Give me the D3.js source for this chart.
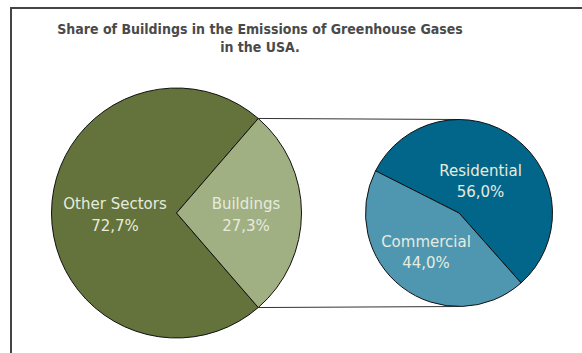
<!DOCTYPE html>
<html>
<head>
<meta charset="utf-8">
<script src="https://cdn.jsdelivr.net/npm/d3@7"></script>
<style>
  html, body { margin: 0; padding: 0; background: #fff; }
  svg { display: block; }
</style>
</head>
<body>
<svg id="chart" width="582" height="353"></svg>
<script>
// Greenhouse gas emissions, USA: buildings vs. other sectors, then buildings split
const mainCategories = ["Other Sectors", "Buildings"];
const mainValues = [72.7, 27.3];
const mainColors = ["#63733B", "#A1B082"];

const subCategories = ["Residential", "Commercial"];
const subValues = [56.0, 44.0];
const subColors = ["#02668B", "#4F97B1"];

const titleLines = ["Share of Buildings in the Emissions of Greenhouse Gases", "in the USA."];

const fmt = v => d3.format(".1f")(v).replace(".", ",") + "%";

const svg = d3.select("#chart");
const fontFamily = "'DejaVu Sans', Verdana, sans-serif";

// Frame (left and top edges)
svg.append("path")
  .attr("d", "M11,353 V8 H582")
  .attr("fill", "none")
  .attr("stroke", "#444")
  .attr("stroke-width", 2);

// Title
svg.append("text")
  .attr("x", 260).attr("y", 33.5)
  .attr("text-anchor", "middle")
  .attr("font-family", "'DejaVu Sans Condensed', 'DejaVu Sans', sans-serif")
  .attr("font-stretch", "condensed")
  .attr("font-size", 14)
  .attr("font-weight", "bold")
  .attr("fill", "#4a4a4a")
  .selectAll("tspan").data(titleLines).join("tspan")
  .attr("x", 260)
  .attr("dy", (d, i) => i === 0 ? 0 : 18)
  .text(d => d);

// Main pie: Buildings slice centred on the right-hand side
const main = { cx: 176.5, cy: 213, r: 125 };
const buildShare = mainValues[1] / d3.sum(mainValues);
const mainStart = Math.PI / 2 + buildShare * Math.PI; // Other Sectors begins just below the Buildings slice
const mainPie = d3.pie().sort(null).value(d => d)
  .startAngle(mainStart).endAngle(mainStart + 2 * Math.PI);
const mainArcs = mainPie(mainValues);
const mainArc = d3.arc().innerRadius(0).outerRadius(main.r);

// Sub pie
const sub = { cx: 459, cy: 213, r: 93.5 };
const subStart = -63.2 * Math.PI / 180;
const subPie = d3.pie().sort(null).value(d => d)
  .startAngle(subStart).endAngle(subStart + 2 * Math.PI);
const subArcs = subPie(subValues);
const subArc = d3.arc().innerRadius(0).outerRadius(sub.r);

// Connector lines from the Buildings slice edges to the sub pie
const bArc = mainArcs[1];
const edgePt = a => [main.cx + main.r * Math.sin(a), main.cy - main.r * Math.cos(a)];
const pTop = edgePt(bArc.startAngle);
const pBot = edgePt(bArc.endAngle);
svg.append("g").selectAll("line")
  .data([[pTop, [sub.cx, sub.cy - sub.r]], [pBot, [sub.cx, sub.cy + sub.r]]])
  .join("line")
  .attr("x1", d => d[0][0]).attr("y1", d => d[0][1])
  .attr("x2", d => d[1][0]).attr("y2", d => d[1][1])
  .attr("stroke", "#333")
  .attr("stroke-width", 1);

const gMain = svg.append("g").attr("transform", `translate(${main.cx},${main.cy})`);
gMain.selectAll("path").data(mainArcs).join("path")
  .attr("d", mainArc)
  .attr("fill", (d, i) => mainColors[i])
  .attr("stroke", "#111")
  .attr("stroke-width", 1);

const gSub = svg.append("g").attr("transform", `translate(${sub.cx},${sub.cy})`);
gSub.selectAll("path").data(subArcs).join("path")
  .attr("d", subArc)
  .attr("fill", (d, i) => subColors[i])
  .attr("stroke", "#111")
  .attr("stroke-width", 1);

// Labels
const labelColor = "#E6EBDF";
function addLabel(g, x, y, name, value) {
  const t = g.append("text")
    .attr("text-anchor", "middle")
    .attr("font-family", fontFamily)
    .attr("font-size", 15)
    .attr("fill", labelColor);
  t.append("tspan").attr("x", x).attr("y", y).text(name);
  t.append("tspan").attr("x", x).attr("y", y + 21.5).text(fmt(value));
}
const mainLabelPos = [[-61.5, -4], [69.5, -4]];
mainCategories.forEach((c, i) => addLabel(gMain, mainLabelPos[i][0], mainLabelPos[i][1], c, mainValues[i]));
const subLabelPos = [[21.5, -37.5], [-33, 33.5]];
subCategories.forEach((c, i) => addLabel(gSub, subLabelPos[i][0], subLabelPos[i][1], c, subValues[i]));
</script>
</body>
</html>
